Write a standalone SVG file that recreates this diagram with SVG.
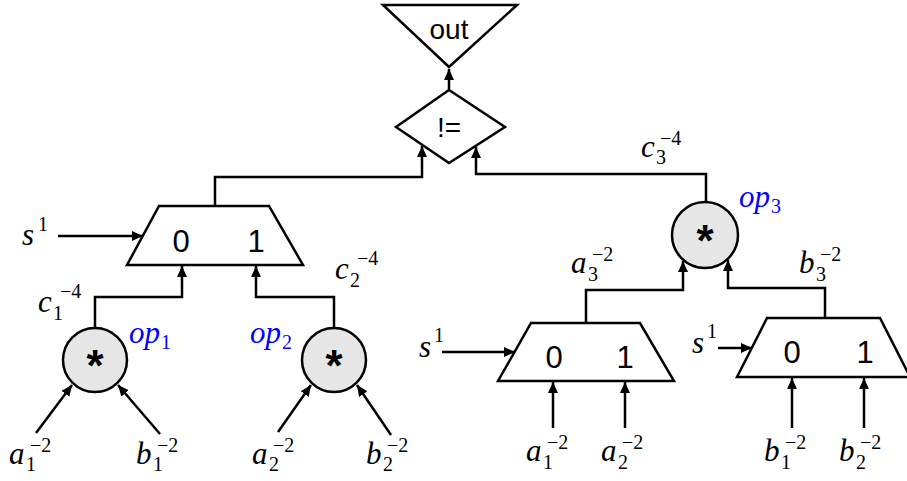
<svg xmlns="http://www.w3.org/2000/svg" width="907" height="481" viewBox="0 0 907 481">
<style>
.shape{fill:#fff;stroke:#000;stroke-width:2.5;stroke-linejoin:miter}
.op{fill:#e6e6e6;stroke:#000;stroke-width:2.5}
.wire{fill:none;stroke:#000;stroke-width:2.5}
.lbl{font-family:"Liberation Sans",Arial,sans-serif;fill:#000;text-anchor:middle}
.star{font-family:"Liberation Sans",Arial,sans-serif;font-weight:bold;font-size:44px;text-anchor:middle}
.v{font-family:"Liberation Serif","Times New Roman",serif;font-style:italic;font-size:31px;fill:#000}
.s{font-family:"Liberation Serif","Times New Roman",serif;font-size:20px;fill:#000}
.blue{fill:#0000ff}
</style>
<defs>
<marker id="ah" markerUnits="userSpaceOnUse" markerWidth="12" markerHeight="10" refX="11" refY="5" orient="auto">
<path d="M0,0 L11,5 L0,10 Z" fill="#000"/>
</marker>
</defs>

<g id="connectors" class="wire">
<path d="M449,90 V69" marker-end="url(#ah)"/>
<path d="M215,206 V177 H422 V146" marker-end="url(#ah)"/>
<path d="M706,202 V174 H476 V147" marker-end="url(#ah)"/>
<path d="M58,236 H143" marker-end="url(#ah)"/>
<path d="M95,328 V297 H182 V266" marker-end="url(#ah)"/>
<path d="M334,328 V297 H256 V266" marker-end="url(#ah)"/>
<path d="M36,433 L72,385" marker-end="url(#ah)"/>
<path d="M160,434 L118,385" marker-end="url(#ah)"/>
<path d="M278,432 L311,385" marker-end="url(#ah)"/>
<path d="M391,435 L357,385" marker-end="url(#ah)"/>
<path d="M586,323 V290 H683 V261" marker-end="url(#ah)"/>
<path d="M825,318 V288 H728 V260" marker-end="url(#ah)"/>
<path d="M442,352 H515" marker-end="url(#ah)"/>
<path d="M718,348 H752" marker-end="url(#ah)"/>
<path d="M553,428 V382" marker-end="url(#ah)"/>
<path d="M625,428 V382" marker-end="url(#ah)"/>
<path d="M792,428 V378" marker-end="url(#ah)"/>
<path d="M864,428 V378" marker-end="url(#ah)"/>
</g>

<g id="out">
<polygon class="shape" points="383,5 517,5 449,67"/>
<text class="lbl" x="449" y="39" font-size="28">out</text>
</g>

<g id="neq">
<polygon class="shape" points="449,90 505,127 449,163 396,127"/>
<text class="lbl" x="449" y="137" font-size="28">!=</text>
</g>

<g id="mux1">
<polygon class="shape" points="159,206 269,206 303,265 127,265"/>
<text class="lbl" x="181" y="252" font-size="31">0</text>
<text class="lbl" x="256" y="252" font-size="31">1</text>
</g>

<g id="mux2">
<polygon class="shape" points="531,323 640,323 674,381 498,381"/>
<text class="lbl" x="554" y="368" font-size="31">0</text>
<text class="lbl" x="625" y="368" font-size="31">1</text>
</g>

<g id="mux3">
<polygon class="shape" points="767,318 880,318 910,377 737,377"/>
<text class="lbl" x="792" y="363" font-size="31">0</text>
<text class="lbl" x="865" y="363" font-size="31">1</text>
</g>

<g id="op1">
<circle class="op" cx="95" cy="360" r="32"/>
<text class="star" x="95" y="381">*</text>
</g>
<g id="op2">
<circle class="op" cx="334" cy="360" r="32"/>
<text class="star" x="334" y="381">*</text>
</g>
<g id="op3">
<circle class="op" cx="705" cy="235" r="33"/>
<text class="star" x="705" y="256">*</text>
</g>

<g id="labels">
<text class="v" x="22" y="245">s</text><text class="s" x="38" y="231">1</text>
<text class="v" x="419" y="357">s</text><text class="s" x="434" y="342">1</text>
<text class="v" x="692" y="353">s</text><text class="s" x="707" y="338">1</text>

<text class="v" x="38" y="312">c</text><text class="s" x="53" y="320">1</text><text class="s" x="60" y="298">−4</text>
<text class="v" x="335" y="279">c</text><text class="s" x="350" y="287">2</text><text class="s" x="357" y="265">−4</text>
<text class="v" x="641" y="157">c</text><text class="s" x="656" y="164">3</text><text class="s" x="660" y="145">−4</text>

<text class="v" x="571" y="273">a</text><text class="s" x="588" y="281">3</text><text class="s" x="592" y="261">−2</text>
<text class="v" x="799" y="273">b</text><text class="s" x="816" y="281">3</text><text class="s" x="820" y="261">−2</text>

<text class="v blue" x="129" y="343">op</text><text class="s blue" x="161" y="349">1</text>
<text class="v blue" x="250" y="343">op</text><text class="s blue" x="282" y="349">2</text>
<text class="v blue" x="739" y="207">op</text><text class="s blue" x="771" y="213">3</text>

<text class="v" x="9" y="464">a</text><text class="s" x="26" y="471">1</text><text class="s" x="30" y="452">−2</text>
<text class="v" x="136" y="464">b</text><text class="s" x="153" y="471">1</text><text class="s" x="157" y="452">−2</text>
<text class="v" x="252" y="464">a</text><text class="s" x="269" y="471">2</text><text class="s" x="273" y="452">−2</text>
<text class="v" x="366" y="464">b</text><text class="s" x="383" y="471">2</text><text class="s" x="387" y="452">−2</text>

<text class="v" x="526" y="461">a</text><text class="s" x="543" y="469">1</text><text class="s" x="547" y="449">−2</text>
<text class="v" x="601" y="461">a</text><text class="s" x="618" y="469">2</text><text class="s" x="622" y="449">−2</text>
<text class="v" x="764" y="461">b</text><text class="s" x="781" y="469">1</text><text class="s" x="785" y="449">−2</text>
<text class="v" x="839" y="461">b</text><text class="s" x="856" y="469">2</text><text class="s" x="860" y="449">−2</text>
</g>
</svg>
